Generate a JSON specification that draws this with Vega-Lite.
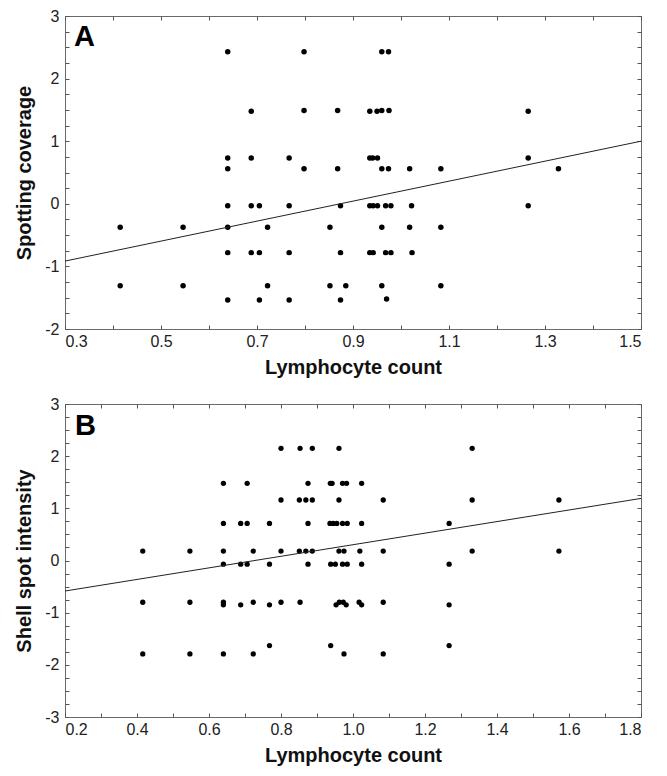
{
  "$schema": "https://vega.github.io/schema/vega-lite/v6.json",
  "background": "white",
  "padding": {"left": 14, "top": 7, "right": 5, "bottom": 5},
  "spacing": 17,
  "config": {
    "font": "Liberation Sans",
    "view": {"stroke": "#6a6a6a", "strokeWidth": 1},
    "axis": {
      "domain": false, "grid": false, "tickColor": "#555", "tickSize": -4, "tickWidth": 1,
      "labelFont": "Liberation Sans", "labelFontSize": 16, "labelColor": "#222",
      "titleFont": "Liberation Sans", "titleFontSize": 20, "titleFontWeight": "bold", "titleColor": "#111"
    }
  },
  "datasets": {
    "A": [
      {"lymphocyte": 0.639, "value": 2.43}, {"lymphocyte": 0.798, "value": 2.43}, {"lymphocyte": 0.960, "value": 2.43}, {"lymphocyte": 0.974, "value": 2.43},
      {"lymphocyte": 0.688, "value": 1.48}, {"lymphocyte": 0.935, "value": 1.48}, {"lymphocyte": 0.950, "value": 1.48}, {"lymphocyte": 1.265, "value": 1.48},
      {"lymphocyte": 0.798, "value": 1.49}, {"lymphocyte": 0.868, "value": 1.49}, {"lymphocyte": 0.960, "value": 1.49}, {"lymphocyte": 0.975, "value": 1.49},
      {"lymphocyte": 0.639, "value": 0.73}, {"lymphocyte": 0.688, "value": 0.73}, {"lymphocyte": 0.767, "value": 0.73}, {"lymphocyte": 0.935, "value": 0.73}, {"lymphocyte": 0.941, "value": 0.73}, {"lymphocyte": 0.951, "value": 0.73}, {"lymphocyte": 1.265, "value": 0.73},
      {"lymphocyte": 0.639, "value": 0.56}, {"lymphocyte": 0.798, "value": 0.56}, {"lymphocyte": 0.868, "value": 0.56}, {"lymphocyte": 0.960, "value": 0.56}, {"lymphocyte": 0.974, "value": 0.56}, {"lymphocyte": 1.018, "value": 0.56}, {"lymphocyte": 1.083, "value": 0.56}, {"lymphocyte": 1.328, "value": 0.56},
      {"lymphocyte": 0.639, "value": -0.03}, {"lymphocyte": 0.688, "value": -0.03}, {"lymphocyte": 0.705, "value": -0.03}, {"lymphocyte": 0.767, "value": -0.03}, {"lymphocyte": 0.874, "value": -0.03}, {"lymphocyte": 0.935, "value": -0.03}, {"lymphocyte": 0.942, "value": -0.03}, {"lymphocyte": 0.951, "value": -0.03}, {"lymphocyte": 0.968, "value": -0.03}, {"lymphocyte": 0.979, "value": -0.03}, {"lymphocyte": 1.022, "value": -0.03}, {"lymphocyte": 1.265, "value": -0.03},
      {"lymphocyte": 0.415, "value": -0.375}, {"lymphocyte": 0.546, "value": -0.375}, {"lymphocyte": 0.639, "value": -0.375}, {"lymphocyte": 0.722, "value": -0.375}, {"lymphocyte": 0.852, "value": -0.375}, {"lymphocyte": 0.960, "value": -0.375}, {"lymphocyte": 1.018, "value": -0.375}, {"lymphocyte": 1.083, "value": -0.375},
      {"lymphocyte": 0.639, "value": -0.78}, {"lymphocyte": 0.688, "value": -0.78}, {"lymphocyte": 0.705, "value": -0.78}, {"lymphocyte": 0.767, "value": -0.78}, {"lymphocyte": 0.874, "value": -0.78}, {"lymphocyte": 0.935, "value": -0.78}, {"lymphocyte": 0.942, "value": -0.78}, {"lymphocyte": 0.968, "value": -0.78}, {"lymphocyte": 0.979, "value": -0.78}, {"lymphocyte": 1.023, "value": -0.78},
      {"lymphocyte": 0.415, "value": -1.31}, {"lymphocyte": 0.546, "value": -1.31}, {"lymphocyte": 0.722, "value": -1.31}, {"lymphocyte": 0.852, "value": -1.31}, {"lymphocyte": 0.885, "value": -1.31}, {"lymphocyte": 0.960, "value": -1.31}, {"lymphocyte": 1.083, "value": -1.31},
      {"lymphocyte": 0.639, "value": -1.535}, {"lymphocyte": 0.705, "value": -1.535}, {"lymphocyte": 0.767, "value": -1.535}, {"lymphocyte": 0.874, "value": -1.535}, {"lymphocyte": 0.970, "value": -1.52}
    ],
    "A_fit": [{"lymphocyte": 0.3, "value": -0.915}, {"lymphocyte": 1.5, "value": 1.0}],
    "B": [
      {"lymphocyte": 0.800, "value": 2.15}, {"lymphocyte": 0.853, "value": 2.15}, {"lymphocyte": 0.887, "value": 2.15}, {"lymphocyte": 0.961, "value": 2.15}, {"lymphocyte": 1.331, "value": 2.15},
      {"lymphocyte": 0.640, "value": 1.48}, {"lymphocyte": 0.706, "value": 1.48}, {"lymphocyte": 0.875, "value": 1.48}, {"lymphocyte": 0.937, "value": 1.48}, {"lymphocyte": 0.942, "value": 1.48}, {"lymphocyte": 0.971, "value": 1.48}, {"lymphocyte": 0.982, "value": 1.48}, {"lymphocyte": 1.024, "value": 1.48},
      {"lymphocyte": 0.800, "value": 1.16}, {"lymphocyte": 0.851, "value": 1.16}, {"lymphocyte": 0.869, "value": 1.16}, {"lymphocyte": 0.887, "value": 1.16}, {"lymphocyte": 0.961, "value": 1.16}, {"lymphocyte": 1.084, "value": 1.16}, {"lymphocyte": 1.331, "value": 1.16}, {"lymphocyte": 1.572, "value": 1.16},
      {"lymphocyte": 0.640, "value": 0.71}, {"lymphocyte": 0.688, "value": 0.71}, {"lymphocyte": 0.706, "value": 0.71}, {"lymphocyte": 0.768, "value": 0.71}, {"lymphocyte": 0.875, "value": 0.71}, {"lymphocyte": 0.936, "value": 0.71}, {"lymphocyte": 0.945, "value": 0.71}, {"lymphocyte": 0.955, "value": 0.71}, {"lymphocyte": 0.971, "value": 0.71}, {"lymphocyte": 0.984, "value": 0.71}, {"lymphocyte": 1.024, "value": 0.71}, {"lymphocyte": 1.267, "value": 0.71},
      {"lymphocyte": 0.416, "value": 0.18}, {"lymphocyte": 0.547, "value": 0.18}, {"lymphocyte": 0.640, "value": 0.18}, {"lymphocyte": 0.723, "value": 0.18}, {"lymphocyte": 0.800, "value": 0.18}, {"lymphocyte": 0.851, "value": 0.18}, {"lymphocyte": 0.869, "value": 0.18}, {"lymphocyte": 0.887, "value": 0.18}, {"lymphocyte": 0.961, "value": 0.18}, {"lymphocyte": 0.975, "value": 0.18}, {"lymphocyte": 1.019, "value": 0.18}, {"lymphocyte": 1.084, "value": 0.18}, {"lymphocyte": 1.331, "value": 0.18}, {"lymphocyte": 1.572, "value": 0.18},
      {"lymphocyte": 0.640, "value": -0.07}, {"lymphocyte": 0.688, "value": -0.07}, {"lymphocyte": 0.706, "value": -0.07}, {"lymphocyte": 0.768, "value": -0.07}, {"lymphocyte": 0.875, "value": -0.07}, {"lymphocyte": 0.938, "value": -0.07}, {"lymphocyte": 0.951, "value": -0.07}, {"lymphocyte": 0.971, "value": -0.07}, {"lymphocyte": 0.984, "value": -0.07}, {"lymphocyte": 1.024, "value": -0.07}, {"lymphocyte": 1.267, "value": -0.07},
      {"lymphocyte": 0.416, "value": -0.80}, {"lymphocyte": 0.547, "value": -0.80}, {"lymphocyte": 0.640, "value": -0.80}, {"lymphocyte": 0.640, "value": -0.85}, {"lymphocyte": 0.688, "value": -0.85}, {"lymphocyte": 0.723, "value": -0.80}, {"lymphocyte": 0.768, "value": -0.85}, {"lymphocyte": 0.800, "value": -0.80}, {"lymphocyte": 0.853, "value": -0.80}, {"lymphocyte": 0.953, "value": -0.85}, {"lymphocyte": 0.962, "value": -0.80}, {"lymphocyte": 0.973, "value": -0.80}, {"lymphocyte": 0.981, "value": -0.85}, {"lymphocyte": 1.017, "value": -0.80}, {"lymphocyte": 1.024, "value": -0.85}, {"lymphocyte": 1.084, "value": -0.80}, {"lymphocyte": 1.267, "value": -0.85},
      {"lymphocyte": 0.768, "value": -1.63}, {"lymphocyte": 0.938, "value": -1.63}, {"lymphocyte": 1.267, "value": -1.63},
      {"lymphocyte": 0.416, "value": -1.79}, {"lymphocyte": 0.547, "value": -1.79}, {"lymphocyte": 0.640, "value": -1.79}, {"lymphocyte": 0.723, "value": -1.79}, {"lymphocyte": 0.975, "value": -1.79}, {"lymphocyte": 1.084, "value": -1.79}
    ],
    "B_fit": [{"lymphocyte": 0.2, "value": -0.585}, {"lymphocyte": 1.8, "value": 1.19}]
  },
  "vconcat": [
    {
      "width": 576, "height": 313,
      "resolve": {"axis": {"x": "independent", "y": "independent"}},
      "layer": [
        {
          "data": {"name": "A"},
          "mark": {"type": "circle", "size": 30, "color": "black", "opacity": 1},
          "encoding": {
            "x": {"field": "lymphocyte", "type": "quantitative", "scale": {"domain": [0.3, 1.5], "nice": false, "zero": false},
                  "axis": {"orient": "bottom", "values": [0.3,0.4,0.5,0.6,0.7,0.8,0.9,1.0,1.1,1.2,1.3,1.4,1.5], "labelExpr": "round(datum.value*10) % 2 == 1 ? format(datum.value, '.1f') : ''", "title": "Lymphocyte count", "labelPadding": 8, "titlePadding": 8}},
            "y": {"field": "value", "type": "quantitative", "scale": {"domain": [-2, 3], "nice": false, "zero": false},
                  "axis": {"orient": "left", "values": [-2,-1.75,-1.5,-1.25,-1,-0.75,-0.5,-0.25,0,0.25,0.5,0.75,1,1.25,1.5,1.75,2,2.25,2.5,2.75,3], "labelExpr": "datum.value % 1 == 0 ? '' + datum.value : ''", "title": "Spotting coverage", "labelPadding": 10, "titlePadding": 10}}
          }
        },
        {
          "data": {"name": "A_fit"},
          "mark": {"type": "line", "color": "#222", "strokeWidth": 1},
          "encoding": {
            "x": {"field": "lymphocyte", "type": "quantitative", "axis": {"orient": "top", "values": [0.3,0.4,0.5,0.6,0.7,0.8,0.9,1.0,1.1,1.2,1.3,1.4,1.5], "labels": false, "title": null}},
            "y": {"field": "value", "type": "quantitative", "axis": {"orient": "right", "values": [-2,-1.75,-1.5,-1.25,-1,-0.75,-0.5,-0.25,0,0.25,0.5,0.75,1,1.25,1.5,1.75,2,2.25,2.5,2.75,3], "labels": false, "title": null}}
          }
        },
        {
          "data": {"values": [{"panel": "A"}]},
          "mark": {"type": "text", "align": "left", "baseline": "alphabetic", "fontSize": 29, "fontWeight": "bold", "color": "black"},
          "encoding": {
            "x": {"datum": 0.319, "type": "quantitative", "axis": null},
            "y": {"datum": 2.52, "type": "quantitative", "axis": null},
            "text": {"field": "panel"}
          }
        }
      ]
    },
    {
      "width": 576, "height": 313,
      "resolve": {"axis": {"x": "independent", "y": "independent"}},
      "layer": [
        {
          "data": {"name": "B"},
          "mark": {"type": "circle", "size": 28, "color": "black", "opacity": 1},
          "encoding": {
            "x": {"field": "lymphocyte", "type": "quantitative", "scale": {"domain": [0.2, 1.8], "nice": false, "zero": false},
                  "axis": {"orient": "bottom", "values": [0.2,0.3,0.4,0.5,0.6,0.7,0.8,0.9,1.0,1.1,1.2,1.3,1.4,1.5,1.6,1.7,1.8], "labelExpr": "round(datum.value*10) % 2 == 0 ? format(datum.value, '.1f') : ''", "title": "Lymphocyte count", "labelPadding": 8, "titlePadding": 8}},
            "y": {"field": "value", "type": "quantitative", "scale": {"domain": [-3, 3], "nice": false, "zero": false},
                  "axis": {"orient": "left", "values": [-3,-2.75,-2.5,-2.25,-2,-1.75,-1.5,-1.25,-1,-0.75,-0.5,-0.25,0,0.25,0.5,0.75,1,1.25,1.5,1.75,2,2.25,2.5,2.75,3], "labelExpr": "datum.value % 1 == 0 ? '' + datum.value : ''", "title": "Shell spot intensity", "labelPadding": 10, "titlePadding": 10}}
          }
        },
        {
          "data": {"name": "B_fit"},
          "mark": {"type": "line", "color": "#222", "strokeWidth": 1},
          "encoding": {
            "x": {"field": "lymphocyte", "type": "quantitative", "axis": {"orient": "top", "values": [0.2,0.3,0.4,0.5,0.6,0.7,0.8,0.9,1.0,1.1,1.2,1.3,1.4,1.5,1.6,1.7,1.8], "labels": false, "title": null}},
            "y": {"field": "value", "type": "quantitative", "axis": {"orient": "right", "values": [-3,-2.75,-2.5,-2.25,-2,-1.75,-1.5,-1.25,-1,-0.75,-0.5,-0.25,0,0.25,0.5,0.75,1,1.25,1.5,1.75,2,2.25,2.5,2.75,3], "labels": false, "title": null}}
          }
        },
        {
          "data": {"values": [{"panel": "B"}]},
          "mark": {"type": "text", "align": "left", "baseline": "alphabetic", "fontSize": 29, "fontWeight": "bold", "color": "black"},
          "encoding": {
            "x": {"datum": 0.228, "type": "quantitative", "axis": null},
            "y": {"datum": 2.405, "type": "quantitative", "axis": null},
            "text": {"field": "panel"}
          }
        }
      ]
    }
  ]
}
